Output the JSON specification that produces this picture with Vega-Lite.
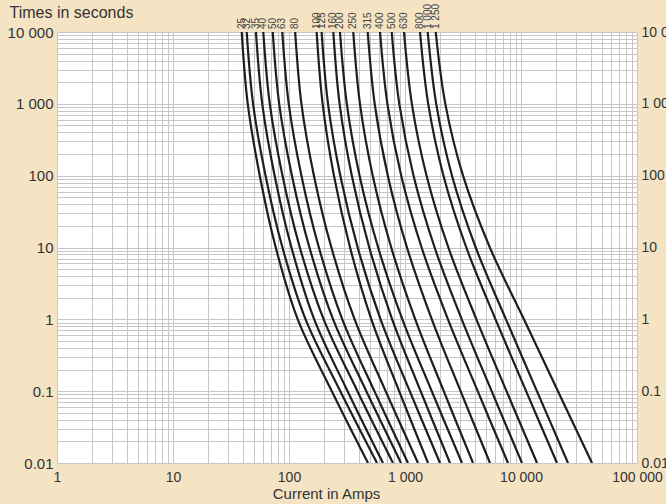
{
  "$schema": "https://vega.github.io/schema/vega-lite/v6.json",
  "width": 580,
  "height": 431,
  "autosize": {"type": "none"},
  "padding": {"left": 57, "top": 32, "right": 29, "bottom": 41},
  "background": "#f4e4c4",
  "config": {
    "view": {"fill": "white", "stroke": null},
    "font": "Liberation Sans",
    "axis": {"labelFont": "Liberation Sans", "titleFont": "Liberation Sans", "labelColor": "#333333", "titleColor": "#333333", "titleFontWeight": "normal", "domain": false, "ticks": false, "gridColor": "#c6c6c6", "gridWidth": 1, "gridOpacity": 1, "labelOverlap": false, "labelFlush": false, "labelBound": false}
  },
  "data": {"values": [
    {"rating": "25", "t": 10000, "amps": 39.1}, {"rating": "25", "t": 1000, "amps": 44.1}, {"rating": "25", "t": 100, "amps": 56.0}, {"rating": "25", "t": 10, "amps": 76.9}, {"rating": "25", "t": 1, "amps": 119}, {"rating": "25", "t": 0.1, "amps": 234}, {"rating": "25", "t": 0.01, "amps": 480},
    {"rating": "32", "t": 10000, "amps": 43.2}, {"rating": "32", "t": 1000, "amps": 49.0}, {"rating": "32", "t": 100, "amps": 62.8}, {"rating": "32", "t": 10, "amps": 87.8}, {"rating": "32", "t": 1, "amps": 139}, {"rating": "32", "t": 0.1, "amps": 277}, {"rating": "32", "t": 0.01, "amps": 574},
    {"rating": "35", "t": 10000, "amps": 51.9}, {"rating": "35", "t": 1000, "amps": 58.8}, {"rating": "35", "t": 100, "amps": 75.2}, {"rating": "35", "t": 10, "amps": 105}, {"rating": "35", "t": 1, "amps": 165}, {"rating": "35", "t": 0.1, "amps": 320}, {"rating": "35", "t": 0.01, "amps": 646},
    {"rating": "40", "t": 10000, "amps": 60.0}, {"rating": "40", "t": 1000, "amps": 68.3}, {"rating": "40", "t": 100, "amps": 87.9}, {"rating": "40", "t": 10, "amps": 124}, {"rating": "40", "t": 1, "amps": 199}, {"rating": "40", "t": 0.1, "amps": 389}, {"rating": "40", "t": 0.01, "amps": 788},
    {"rating": "50", "t": 10000, "amps": 72.4}, {"rating": "50", "t": 1000, "amps": 82.3}, {"rating": "50", "t": 100, "amps": 106}, {"rating": "50", "t": 10, "amps": 150}, {"rating": "50", "t": 1, "amps": 240}, {"rating": "50", "t": 0.1, "amps": 464}, {"rating": "50", "t": 0.01, "amps": 924},
    {"rating": "63", "t": 10000, "amps": 87.5}, {"rating": "63", "t": 1000, "amps": 99.5}, {"rating": "63", "t": 100, "amps": 128}, {"rating": "63", "t": 10, "amps": 181}, {"rating": "63", "t": 1, "amps": 288}, {"rating": "63", "t": 0.1, "amps": 545}, {"rating": "63", "t": 0.01, "amps": 1061},
    {"rating": "80", "t": 10000, "amps": 113}, {"rating": "80", "t": 1000, "amps": 128}, {"rating": "80", "t": 100, "amps": 164}, {"rating": "80", "t": 10, "amps": 232}, {"rating": "80", "t": 1, "amps": 368}, {"rating": "80", "t": 0.1, "amps": 681}, {"rating": "80", "t": 0.01, "amps": 1294},
    {"rating": "100", "t": 10000, "amps": 173}, {"rating": "100", "t": 1000, "amps": 195}, {"rating": "100", "t": 100, "amps": 244}, {"rating": "100", "t": 10, "amps": 336}, {"rating": "100", "t": 1, "amps": 513}, {"rating": "100", "t": 0.1, "amps": 890}, {"rating": "100", "t": 0.01, "amps": 1579},
    {"rating": "125", "t": 10000, "amps": 191}, {"rating": "125", "t": 1000, "amps": 217}, {"rating": "125", "t": 100, "amps": 277}, {"rating": "125", "t": 10, "amps": 391}, {"rating": "125", "t": 1, "amps": 616}, {"rating": "125", "t": 0.1, "amps": 1099}, {"rating": "125", "t": 0.01, "amps": 2003},
    {"rating": "160", "t": 10000, "amps": 241}, {"rating": "160", "t": 1000, "amps": 273}, {"rating": "160", "t": 100, "amps": 348}, {"rating": "160", "t": 10, "amps": 492}, {"rating": "160", "t": 1, "amps": 775}, {"rating": "160", "t": 0.1, "amps": 1364}, {"rating": "160", "t": 0.01, "amps": 2443},
    {"rating": "200", "t": 10000, "amps": 275}, {"rating": "200", "t": 1000, "amps": 315}, {"rating": "200", "t": 100, "amps": 406}, {"rating": "200", "t": 10, "amps": 587}, {"rating": "200", "t": 1, "amps": 949}, {"rating": "200", "t": 0.1, "amps": 1700}, {"rating": "200", "t": 0.01, "amps": 3100},
    {"rating": "250", "t": 10000, "amps": 358}, {"rating": "250", "t": 1000, "amps": 409}, {"rating": "250", "t": 100, "amps": 527}, {"rating": "250", "t": 10, "amps": 761}, {"rating": "250", "t": 1, "amps": 1226}, {"rating": "250", "t": 0.1, "amps": 2159}, {"rating": "250", "t": 0.01, "amps": 3857},
    {"rating": "315", "t": 10000, "amps": 477}, {"rating": "315", "t": 1000, "amps": 548}, {"rating": "315", "t": 100, "amps": 711}, {"rating": "315", "t": 10, "amps": 1040}, {"rating": "315", "t": 1, "amps": 1703}, {"rating": "315", "t": 0.1, "amps": 3015}, {"rating": "315", "t": 0.01, "amps": 5405},
    {"rating": "400", "t": 10000, "amps": 609}, {"rating": "400", "t": 1000, "amps": 705}, {"rating": "400", "t": 100, "amps": 928}, {"rating": "400", "t": 10, "amps": 1391}, {"rating": "400", "t": 1, "amps": 2347}, {"rating": "400", "t": 0.1, "amps": 4234}, {"rating": "400", "t": 0.01, "amps": 7726},
    {"rating": "500", "t": 10000, "amps": 768}, {"rating": "500", "t": 1000, "amps": 893}, {"rating": "500", "t": 100, "amps": 1185}, {"rating": "500", "t": 10, "amps": 1801}, {"rating": "500", "t": 1, "amps": 3085}, {"rating": "500", "t": 0.1, "amps": 5585}, {"rating": "500", "t": 0.01, "amps": 10200},
    {"rating": "630", "t": 10000, "amps": 980}, {"rating": "630", "t": 1000, "amps": 1146}, {"rating": "630", "t": 100, "amps": 1534}, {"rating": "630", "t": 10, "amps": 2366}, {"rating": "630", "t": 1, "amps": 4127}, {"rating": "630", "t": 0.1, "amps": 7505}, {"rating": "630", "t": 0.01, "amps": 13740},
    {"rating": "800", "t": 10000, "amps": 1347}, {"rating": "800", "t": 1000, "amps": 1585}, {"rating": "800", "t": 100, "amps": 2146}, {"rating": "800", "t": 10, "amps": 3378}, {"rating": "800", "t": 1, "amps": 6029}, {"rating": "800", "t": 0.1, "amps": 11070}, {"rating": "800", "t": 0.01, "amps": 20430},
    {"rating": "1 000", "t": 10000, "amps": 1569}, {"rating": "1 000", "t": 1000, "amps": 1858}, {"rating": "1 000", "t": 100, "amps": 2542}, {"rating": "1 000", "t": 10, "amps": 4071}, {"rating": "1 000", "t": 1, "amps": 7418}, {"rating": "1 000", "t": 0.1, "amps": 13720}, {"rating": "1 000", "t": 0.01, "amps": 25420},
    {"rating": "1 250", "t": 10000, "amps": 1840}, {"rating": "1 250", "t": 1000, "amps": 2226}, {"rating": "1 250", "t": 100, "amps": 3165}, {"rating": "1 250", "t": 10, "amps": 5390}, {"rating": "1 250", "t": 1, "amps": 10600}, {"rating": "1 250", "t": 0.1, "amps": 20820}, {"rating": "1 250", "t": 0.01, "amps": 40940}
  ]},
  "resolve": {"axis": {"x": "independent", "y": "independent"}},
  "layer": [
    {
      "mark": {"type": "line", "interpolate": "catmull-rom", "color": "#1e1e1e", "strokeWidth": 2.2, "clip": true},
      "encoding": {
        "x": {"field": "amps", "type": "quantitative",
          "scale": {"type": "log", "domain": [1, 100000], "nice": false, "zero": false},
          "axis": {"orient": "bottom", "values": [1,2,3,4,5,6,7,8,9,10,20,30,40,50,60,70,80,90,100,200,300,400,500,600,700,800,900,1000,2000,3000,4000,5000,6000,7000,8000,9000,10000,20000,30000,40000,50000,60000,70000,80000,90000,100000],
            "labelExpr": "datum.value == 1 ? '1' : datum.value == 10 ? '10' : datum.value == 100 ? '100' : datum.value == 1000 ? '1 000' : datum.value == 10000 ? '10 000' : datum.value == 100000 ? '100 000' : ''",
            "labelFontSize": 14, "labelPadding": 7, "labelAlign": "center", "labelBaseline": "top",
            "grid": true,
            "title": "Current in Amps", "titleFontSize": 15, "titleX": 269, "titleY": 35, "titleAlign": "center", "titleBaseline": "alphabetic", "titleAnchor": null}},
        "y": {"field": "t", "type": "quantitative",
          "scale": {"type": "log", "domain": [0.01, 10000], "nice": false, "zero": false},
          "axis": {"orient": "left", "values": [0.01,0.02,0.03,0.04,0.05,0.06,0.07,0.08,0.09,0.1,0.2,0.3,0.4,0.5,0.6,0.7,0.8,0.9,1,2,3,4,5,6,7,8,9,10,20,30,40,50,60,70,80,90,100,200,300,400,500,600,700,800,900,1000,2000,3000,4000,5000,6000,7000,8000,9000,10000],
            "labelExpr": "datum.value == 10000 ? '10 000' : datum.value == 1000 ? '1 000' : datum.value == 100 ? '100' : datum.value == 10 ? '10' : datum.value == 1 ? '1' : datum.value == 0.1 ? '0.1' : datum.value == 0.01 ? '0.01' : ''",
            "labelFontSize": 15, "labelPadding": 4, "labelBaseline": "middle",
            "grid": true,
            "title": "Times in seconds", "titleFontSize": 16, "titleAngle": 0, "titleX": -48, "titleY": -15, "titleAlign": "left", "titleBaseline": "alphabetic", "titleAnchor": null}},
        "detail": {"field": "rating", "type": "nominal"}
      }
    },
    {
      "transform": [{"filter": "datum.t == 10000"}],
      "mark": {"type": "text", "angle": 270, "align": "left", "baseline": "middle", "dx": 3, "fontSize": 10, "color": "#444444"},
      "encoding": {
        "x": {"field": "amps", "type": "quantitative", "axis": null},
        "y": {"field": "t", "type": "quantitative",
          "axis": {"orient": "right", "values": [0.01, 0.1, 1, 10, 100, 1000, 10000],
            "labelExpr": "datum.value == 10000 ? '10 000' : datum.value == 1000 ? '1 000' : datum.value == 100 ? '100' : datum.value == 10 ? '10' : datum.value == 1 ? '1' : datum.value == 0.1 ? '0.1' : datum.value == 0.01 ? '0.01' : ''",
            "labelFontSize": 14, "labelPadding": 4, "labelBaseline": "middle", "labelAlign": "left", "grid": false, "title": null}},
        "text": {"field": "rating", "type": "nominal"}
      }
    }
  ]
}
